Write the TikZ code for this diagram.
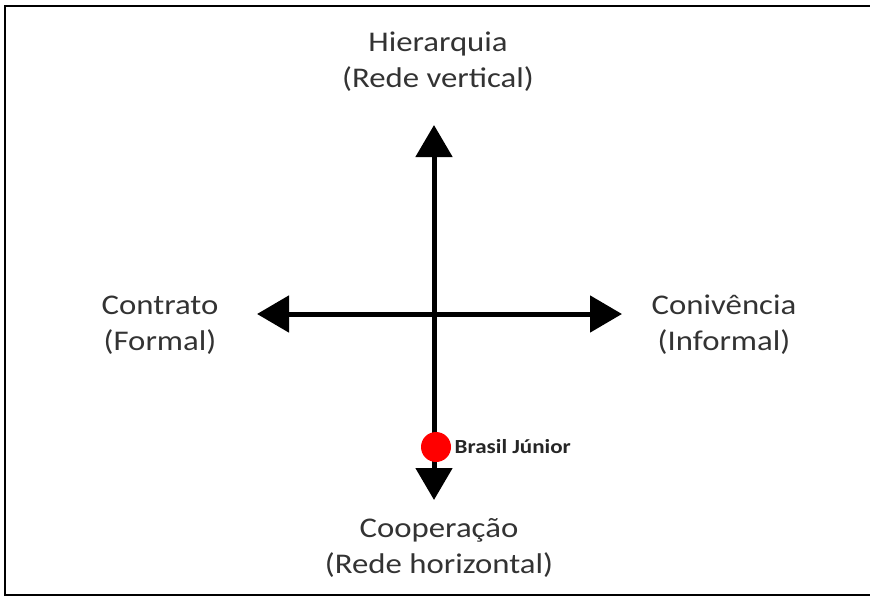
\documentclass[tikz,border=0pt]{standalone}
\usepackage{fontspec}
\setmainfont{Carlito}[FakeStretch=1.15]
\usetikzlibrary{positioning}
\usetikzlibrary{arrows.meta}

\begin{document}
\begin{tikzpicture}[x=1pt,y=-1pt,>={Triangle[length=32pt,width=36pt]},
			axis/.style={line width=5pt,<->},
			lbl/.style={align=center,
				text=black!80,
				font=\fontsize{28.5}{36}\selectfont}]
			\useasboundingbox (0,0) rectangle (870,597);
			\draw[line width=2pt] (5,6) rectangle (880,595);
			\coordinate (top) at (434,125);
			\coordinate (bot) at (434,500);
			\coordinate (left) at (257,314);
			\coordinate (right) at (622,314);
			\draw[axis] (bot)--(top);
			\draw[axis] (left)--(right);
			\node[lbl] (hier) at (438,62) {Hierarquia\\(Rede vertical)};
			\node[lbl] (contr) at (160,325) {Contrato\\(Formal)};
			\node[lbl] (coniv) at (724,325) {Conivência\\(Informal)};
			\node[lbl] (coop) at (439,548) {Cooperação\\(Rede horizontal)};
			\node[circle,fill=red,minimum size=30pt,inner sep=0pt] (bj) at (436,447) {};
			\node[right=0pt of bj,font=\bfseries\fontsize{20}{22}\selectfont,text=black!85] (bjl) {Brasil Júnior};
		\end{tikzpicture}
\end{document}
